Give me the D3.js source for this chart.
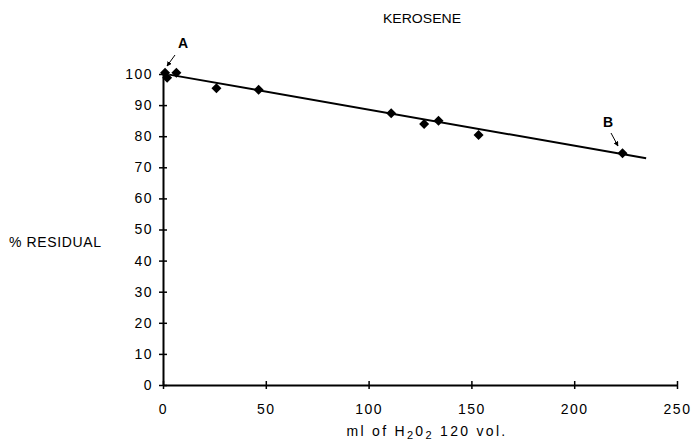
<!DOCTYPE html>
<html><head><meta charset="utf-8">
<script src="https://cdn.jsdelivr.net/npm/d3@7"></script>
<style>body{margin:0;background:#fff}svg{display:block}text{font-family:"Liberation Sans",Arial,sans-serif;fill:#000}</style>
</head><body>
<script>
const xValues = [1, 2, 6.5, 26, 46.5, 111, 127, 134, 153.5, 223.5];
const yValues = [100.4, 98.8, 100.4, 95.4, 94.9, 87.4, 83.9, 85.0, 80.4, 74.5];
const fitLine = [[3, 99.8], [235, 72.9]];
const xTicks = [0, 50, 100, 150, 200, 250];
const yTicks = [0, 10, 20, 30, 40, 50, 60, 70, 80, 90, 100];

const W = 692, H = 440;
const svg = d3.select("body").append("svg").attr("width", W).attr("height", H);
const x = d3.scaleLinear().domain([0, 250]).range([163, 677]);
const y = d3.scaleLinear().domain([0, 100]).range([385, 74]);

// axes
const xAxis = d3.axisBottom(x).tickValues(xTicks).tickSize(0).tickPadding(19).tickFormat(d3.format("d"));
const gx = svg.append("g").attr("transform", `translate(0,${y(0)})`).call(xAxis);
gx.select(".domain").attr("stroke", "#000").attr("stroke-width", 2);
gx.selectAll(".tick line").remove();
gx.selectAll(".tick").append("line").attr("y1", -4).attr("y2", 4).attr("stroke", "#000").attr("stroke-width", 1.5);
gx.selectAll(".tick text").style("font-size", "14px").attr("letter-spacing", "1.5px").attr("fill", "#000").attr("dy", "0.71em");

const yAxis = d3.axisLeft(y).tickValues(yTicks).tickSize(0).tickPadding(10).tickFormat(d3.format("d"));
const gy = svg.append("g").attr("transform", `translate(${x(0)},0)`).call(yAxis);
gy.select(".domain").attr("stroke", "#000").attr("stroke-width", 2);
gy.selectAll(".tick line").remove();
gy.selectAll(".tick").append("line").attr("x1", -4).attr("x2", 4).attr("stroke", "#000").attr("stroke-width", 1.5);
gy.selectAll(".tick text").style("font-size", "14px").attr("letter-spacing", "1.5px").attr("fill", "#000");

// fit line
svg.append("path").datum(fitLine)
  .attr("d", d3.line().x(d => x(d[0])).y(d => y(d[1])))
  .attr("stroke", "#000").attr("stroke-width", 2).attr("fill", "none");

// points
svg.selectAll(".pt").data(xValues.map((v, i) => [v, yValues[i]])).enter().append("path")
  .attr("class", "pt")
  .attr("d", d3.symbol(d3.symbolDiamond2, 64))
  .attr("transform", d => `translate(${x(d[0])},${y(d[1])})`)
  .attr("fill", "#000");

// title and labels
svg.append("text").attr("x", 422).attr("y", 23).attr("text-anchor", "middle")
  .attr("font-size", 12).attr("textLength", 78).attr("lengthAdjust", "spacingAndGlyphs")
  .style("font-family", "'Liberation Sans Narrow','Liberation Sans',sans-serif").text("KEROSENE");
svg.append("text").attr("x", 9).attr("y", 247).style("font-size", "14px").attr("textLength", 92).text("% RESIDUAL");
const xl = svg.append("text").attr("x", 427).attr("y", 436).attr("text-anchor", "middle").style("font-size", "14px").attr("letter-spacing", "2.3px");
xl.append("tspan").text("ml of H");
xl.append("tspan").style("font-size", "11px").attr("dy", 3).text("2");
xl.append("tspan").attr("dy", -3).text("0");
xl.append("tspan").style("font-size", "11px").attr("dy", 3).text("2");
xl.append("tspan").attr("dy", -3).text(" 120 vol.");

// annotations
svg.append("text").attr("x", 183).attr("y", 48).attr("text-anchor", "middle").attr("font-size", 14).attr("font-weight", "bold").text("A");
svg.append("text").attr("x", 608).attr("y", 127).attr("text-anchor", "middle").attr("font-size", 14).attr("font-weight", "bold").text("B");
const defs = svg.append("defs");
defs.append("marker").attr("id", "ah").attr("viewBox", "0 0 10 10").attr("refX", 9).attr("refY", 5)
  .attr("markerWidth", 5).attr("markerHeight", 5).attr("orient", "auto")
  .append("path").attr("d", "M0,0L10,5L0,10z").attr("fill", "#000");
svg.append("line").attr("x1", 175).attr("y1", 55).attr("x2", 167).attr("y2", 66)
  .attr("stroke", "#000").attr("stroke-width", 1).attr("marker-end", "url(#ah)");
svg.append("line").attr("x1", 611).attr("y1", 133).attr("x2", 618).attr("y2", 146)
  .attr("stroke", "#000").attr("stroke-width", 1).attr("marker-end", "url(#ah)");
</script>
</body></html>
